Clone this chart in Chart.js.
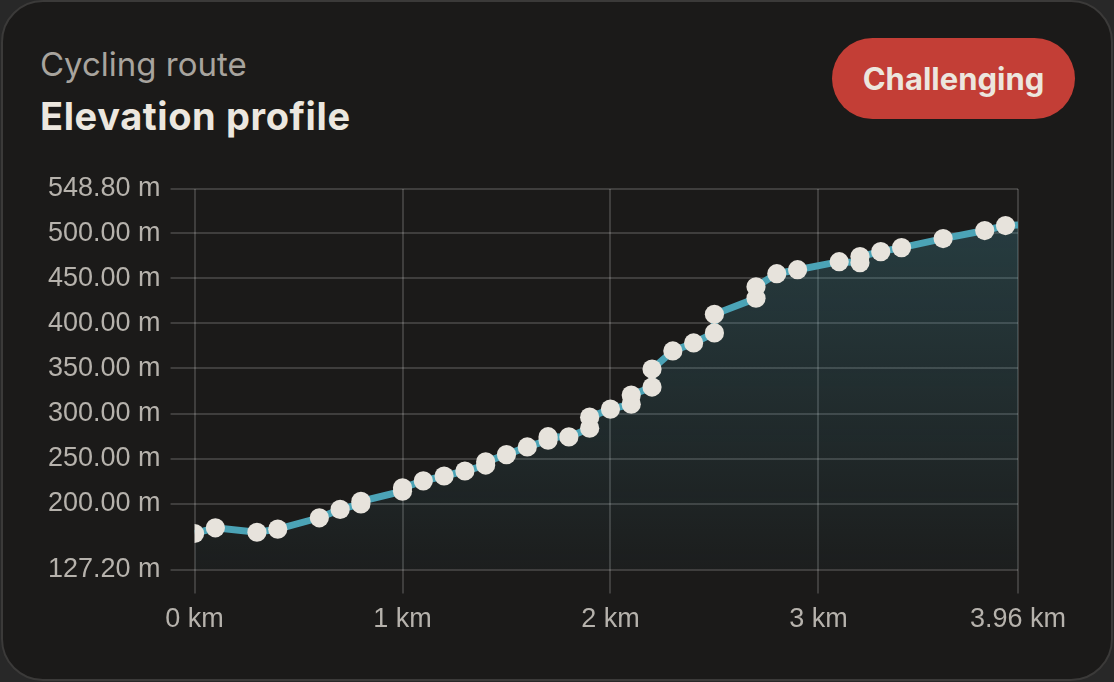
<!DOCTYPE html>
<html>
<head>
<meta charset="utf-8">
<script src="https://cdn.jsdelivr.net/npm/chart.js@4.4.1/dist/chart.umd.min.js"></script>
<style>
  html, body { margin:0; padding:0; width:1114px; height:682px; overflow:hidden; background:#282828; }
  .card { position:absolute; left:1px; top:0px; width:1112px; height:681px; box-sizing:border-box;
          border:2px solid #3b3a39; border-radius:42px; background:#1b1a19; }
  .sub { position:absolute; left:40px; top:48px; font-family:Inter, sans-serif; font-size:33px; line-height:33px;
         color:#a8a49e; font-weight:400; }
  .title { position:absolute; left:40px; top:97px; font-family:Inter, sans-serif; font-size:38px; line-height:38px;
           color:#ece7df; font-weight:700; letter-spacing:0.6px; }
  .badge { position:absolute; left:832px; top:38px; width:243px; height:81px; border-radius:41px; background:#c33e36;
           color:#ece6de; font-family:Inter, sans-serif; font-weight:700; font-size:31px;
           display:flex; align-items:center; justify-content:center; }
  .wrap { position:absolute; left:0px; top:150px; width:1114px; height:506px; }
</style>
</head>
<body>
<div class="card"></div>
<div class="sub">Cycling route</div>
<div class="title">Elevation profile</div>
<div class="badge">Challenging</div>
<div class="wrap"><canvas id="c"></canvas></div>
<script>
const distanceKm = [0, 0.1, 0.3, 0.4, 0.6, 0.7, 0.8, 0.8, 1.0, 1.0, 1.1, 1.2, 1.3, 1.4, 1.4, 1.5, 1.6, 1.7, 1.7, 1.8,
                    1.9, 1.9, 2.0, 2.1, 2.1, 2.2, 2.2, 2.3, 2.4, 2.5, 2.5, 2.7, 2.7, 2.8, 2.9, 3.1, 3.2, 3.2, 3.3, 3.4,
                    3.6, 3.8, 3.9, 3.96];
const elevationM = [167.2, 173.5, 168.6, 172.0, 184.6, 193.9, 200.0, 202.9, 214.1, 217.8, 225.5, 230.9, 236.4, 243.0, 246.6, 254.6, 263.1, 270.5, 274.4, 274.2,
                    283.9, 296.1, 305.0, 310.5, 320.5, 329.4, 349.4, 369.4, 378.3, 389.4, 410.0, 427.8, 440.5, 455.0, 459.4, 468.3, 467.2, 473.9, 479.4, 483.9,
                    493.9, 502.8, 508.3, 508.8];
const xTickValues = [0, 1, 2, 3, 3.96];
const yTickValues = [127.2, 200, 250, 300, 350, 400, 450, 500, 548.8];
const yMin = 127.2, yMax = 548.8;
const xMin = 0, xMax = 3.96;

const points = distanceKm.map((d, i) => ({ x: d, y: elevationM[i] }));

Chart.defaults.font.family = "'Liberation Sans', Arial, sans-serif";
Chart.defaults.font.size = 27;
Chart.defaults.color = '#b6b2ac';

const gridColor = 'rgba(255,255,255,0.16)';

new Chart(document.getElementById('c'), {
  type: 'line',
  data: {
    datasets: [{
      data: points,
      borderColor: '#4ba3b6',
      borderWidth: 7,
      tension: 0,
      clip: 0,
      fill: 'start',
      backgroundColor: (ctx) => {
        const a = ctx.chart.chartArea;
        if (!a) return 'rgba(75,163,182,0.15)';
        const g = ctx.chart.ctx.createLinearGradient(0, a.top, 0, a.bottom);
        g.addColorStop(0, 'rgba(75,163,182,0.27)');
        g.addColorStop(1, 'rgba(75,163,182,0.03)');
        return g;
      },
      pointRadius: (ctx) => ctx.dataIndex === elevationM.length - 1 ? 0 : 9.6,
      pointBackgroundColor: '#e7e3dc',
      pointBorderWidth: 0,
      pointHoverRadius: 9.6
    }]
  },
  options: {
    responsive: true,
    maintainAspectRatio: false,
    animation: false,
    events: [],
    layout: { padding: { left: 38, right: 96, top: 39, bottom: 10 } },
    plugins: { legend: { display: false }, tooltip: { enabled: false } },
    scales: {
      x: {
        type: 'linear',
        min: xMin, max: xMax,
        afterBuildTicks: (s) => { s.ticks = xTickValues.map(v => ({ value: v })); },
        ticks: { padding: 10, maxRotation: 0, autoSkip: false, callback: (v) => v + ' km' },
        grid: { color: gridColor, lineWidth: 2, tickLength: 24 },
        border: { display: false }
      },
      y: {
        type: 'linear',
        min: yMin, max: yMax,
        afterBuildTicks: (s) => { s.ticks = yTickValues.map(v => ({ value: v })); },
        ticks: { padding: 10, autoSkip: false, callback: (v) => Number(v).toFixed(2) + ' m' },
        grid: { color: gridColor, lineWidth: 2, tickLength: 24 },
        border: { display: false }
      }
    }
  }
});
</script>
</body>
</html>
